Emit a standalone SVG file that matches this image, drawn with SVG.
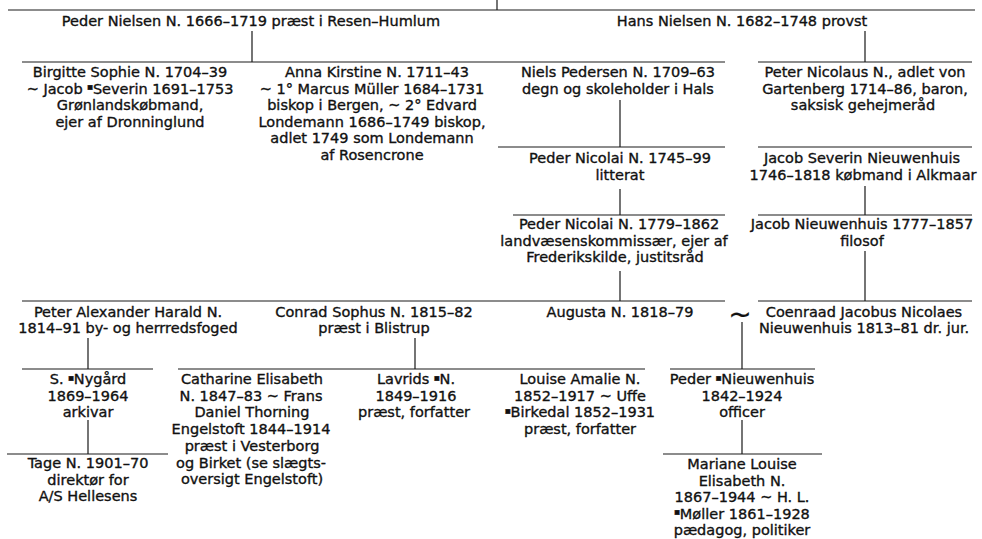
<svg xmlns="http://www.w3.org/2000/svg" width="982" height="539" viewBox="0 0 982 539">
<style>
.t{font-family:"DejaVu Sans","Liberation Sans",sans-serif;font-size:14.5px;fill:#111;stroke:#111;stroke-width:0.35;text-anchor:middle}
.sq{font-size:6px}
.ln{stroke:#1a1a1a;stroke-width:1.2;fill:none}
</style>
<rect width="982" height="539" fill="#fff"/>
<g id="connectors" class="ln">
<path d="M497 0V10M8 10H975"/>
<path d="M252 31V62M22 62H725M865 31V62M758 62H972"/>
<path d="M620 100V147M498 147H725M758 147H972"/>
<path d="M620 189V215M513 215H725M865 186V215M758 215H972"/>
<path d="M620 271V301M22 301H725M865 251V301M758 301H972"/>
<path d="M88 338V369M22 369H153M415 338V369M178 369H645M742 322V369M670 369H815"/>
<path d="M88 420V454M7 454H168M742 420V454M663 454H822"/>
</g>
<g id="n-peder-nielsen"><text class="t" x="251" y="26">Peder Nielsen N. 1666–1719 præst i Resen–Humlum</text></g>
<g id="n-hans-nielsen"><text class="t" x="742" y="26">Hans Nielsen N. 1682–1748 provst</text></g>
<g id="n-birgitte"><text class="t" x="130" y="77"><tspan x="130">Birgitte Sophie N. 1704–39</tspan><tspan x="130" dy="16.5">~ Jacob <tspan class="sq" dy="-4.5">■</tspan><tspan dy="4.5">Severin 1691–1753</tspan></tspan><tspan x="130" dy="16.5">Grønlandskøbmand,</tspan><tspan x="130" dy="16.5">ejer af Dronninglund</tspan></text></g>
<g id="n-anna"><text class="t" x="372" y="77"><tspan x="377">Anna Kirstine N. 1711–43</tspan><tspan x="372" dy="16.5">~ 1° Marcus Müller 1684–1731</tspan><tspan x="372" dy="16.5">biskop i Bergen, ~ 2° Edvard</tspan><tspan x="372" dy="16.5">Londemann 1686–1749 biskop,</tspan><tspan x="372" dy="16.5">adlet 1749 som Londemann</tspan><tspan x="372" dy="16.5">af Rosencrone</tspan></text></g>
<g id="n-niels"><text class="t" x="618" y="77"><tspan x="618">Niels Pedersen N. 1709–63</tspan><tspan x="618" dy="16.5">degn og skoleholder i Hals</tspan></text></g>
<g id="n-peter-nicolaus"><text class="t" x="865" y="77"><tspan x="865">Peter Nicolaus N., adlet von</tspan><tspan x="865" dy="16.5">Gartenberg 1714–86, baron,</tspan><tspan x="863" dy="16.5">saksisk gehejmeråd</tspan></text></g>
<g id="n-peder-nicolai-1745"><text class="t" x="620" y="163"><tspan x="620">Peder Nicolai N. 1745–99</tspan><tspan x="620" dy="16.5">litterat</tspan></text></g>
<g id="n-jacob-severin"><text class="t" x="862" y="163"><tspan x="862">Jacob Severin Nieuwenhuis</tspan><tspan x="863" dy="16.5">1746–1818 købmand i Alkmaar</tspan></text></g>
<g id="n-peder-nicolai-1779"><text class="t" x="617" y="229"><tspan x="619">Peder Nicolai N. 1779–1862</tspan><tspan x="614" dy="16.5">landvæsenskommissær, ejer af</tspan><tspan x="615" dy="16.5">Frederikskilde, justitsråd</tspan></text></g>
<g id="n-jacob-nieuwenhuis"><text class="t" x="862" y="229"><tspan x="862">Jacob Nieuwenhuis 1777–1857</tspan><tspan x="862" dy="16.5">filosof</tspan></text></g>
<g id="n-peter-alexander"><text class="t" x="128" y="316.5"><tspan x="128">Peter Alexander Harald N.</tspan><tspan x="128" dy="16">1814–91 by- og herrredsfoged</tspan></text></g>
<g id="n-conrad"><text class="t" x="374" y="316.5"><tspan x="374">Conrad Sophus N. 1815–82</tspan><tspan x="374" dy="16">præst i Blistrup</tspan></text></g>
<g id="n-augusta"><text class="t" x="620" y="316.5">Augusta N. 1818–79</text></g>
<g id="n-marriage"><text class="t" x="740" y="324" style="font-size:28px;stroke-width:0.2">~</text></g>
<g id="n-coenraad"><text class="t" x="864" y="316.5"><tspan x="864">Coenraad Jacobus Nicolaes</tspan><tspan x="864" dy="16">Nieuwenhuis 1813–81 dr. jur.</tspan></text></g>
<g id="n-nygaard"><text class="t" x="88" y="384"><tspan x="88">S. <tspan class="sq" dy="-4.5">■</tspan><tspan dy="4.5">Nygård</tspan></tspan><tspan x="88" dy="16.7">1869–1964</tspan><tspan x="88" dy="16.7">arkivar</tspan></text></g>
<g id="n-catharine"><text class="t" x="252" y="384"><tspan x="252">Catharine Elisabeth</tspan><tspan x="251" dy="16.7">N. 1847–83 ~ Frans</tspan><tspan x="252" dy="16.7">Daniel Thorning</tspan><tspan x="251" dy="16.7">Engelstoft 1844–1914</tspan><tspan x="252" dy="16.7">præst i Vesterborg</tspan><tspan x="251" dy="16.7">og Birket (se slægts-</tspan><tspan x="252" dy="16.7">oversigt Engelstoft)</tspan></text></g>
<g id="n-lavrids"><text class="t" x="416" y="384"><tspan x="416">Lavrids <tspan class="sq" dy="-4.5">■</tspan><tspan dy="4.5">N.</tspan></tspan><tspan x="416" dy="16.7">1849–1916</tspan><tspan x="414" dy="16.7">præst, forfatter</tspan></text></g>
<g id="n-louise"><text class="t" x="580" y="384"><tspan x="580">Louise Amalie N.</tspan><tspan x="580" dy="16.7">1852–1917 ~ Uffe</tspan><tspan x="580" dy="12.2" class="sq">■</tspan><tspan dy="4.5">Birkedal 1852–1931</tspan><tspan x="580" dy="16.7">præst, forfatter</tspan></text></g>
<g id="n-peder-nieuwenhuis"><text class="t" x="742" y="384"><tspan x="742">Peder <tspan class="sq" dy="-4.5">■</tspan><tspan dy="4.5">Nieuwenhuis</tspan></tspan><tspan x="742" dy="16.7">1842–1924</tspan><tspan x="742" dy="16.7">officer</tspan></text></g>
<g id="n-tage"><text class="t" x="88" y="468"><tspan x="88">Tage N. 1901–70</tspan><tspan x="88" dy="16.7">direktør for</tspan><tspan x="88" dy="16.7">A/S Hellesens</tspan></text></g>
<g id="n-mariane"><text class="t" x="742" y="469"><tspan x="742">Mariane Louise</tspan><tspan x="742" dy="16.5">Elisabeth N.</tspan><tspan x="742" dy="16.5">1867–1944 ~ H. L.</tspan><tspan x="742" dy="12" class="sq">■</tspan><tspan dy="4.5">Møller 1861–1928</tspan><tspan x="742" dy="16.5">pædagog, politiker</tspan></text></g>
</svg>
